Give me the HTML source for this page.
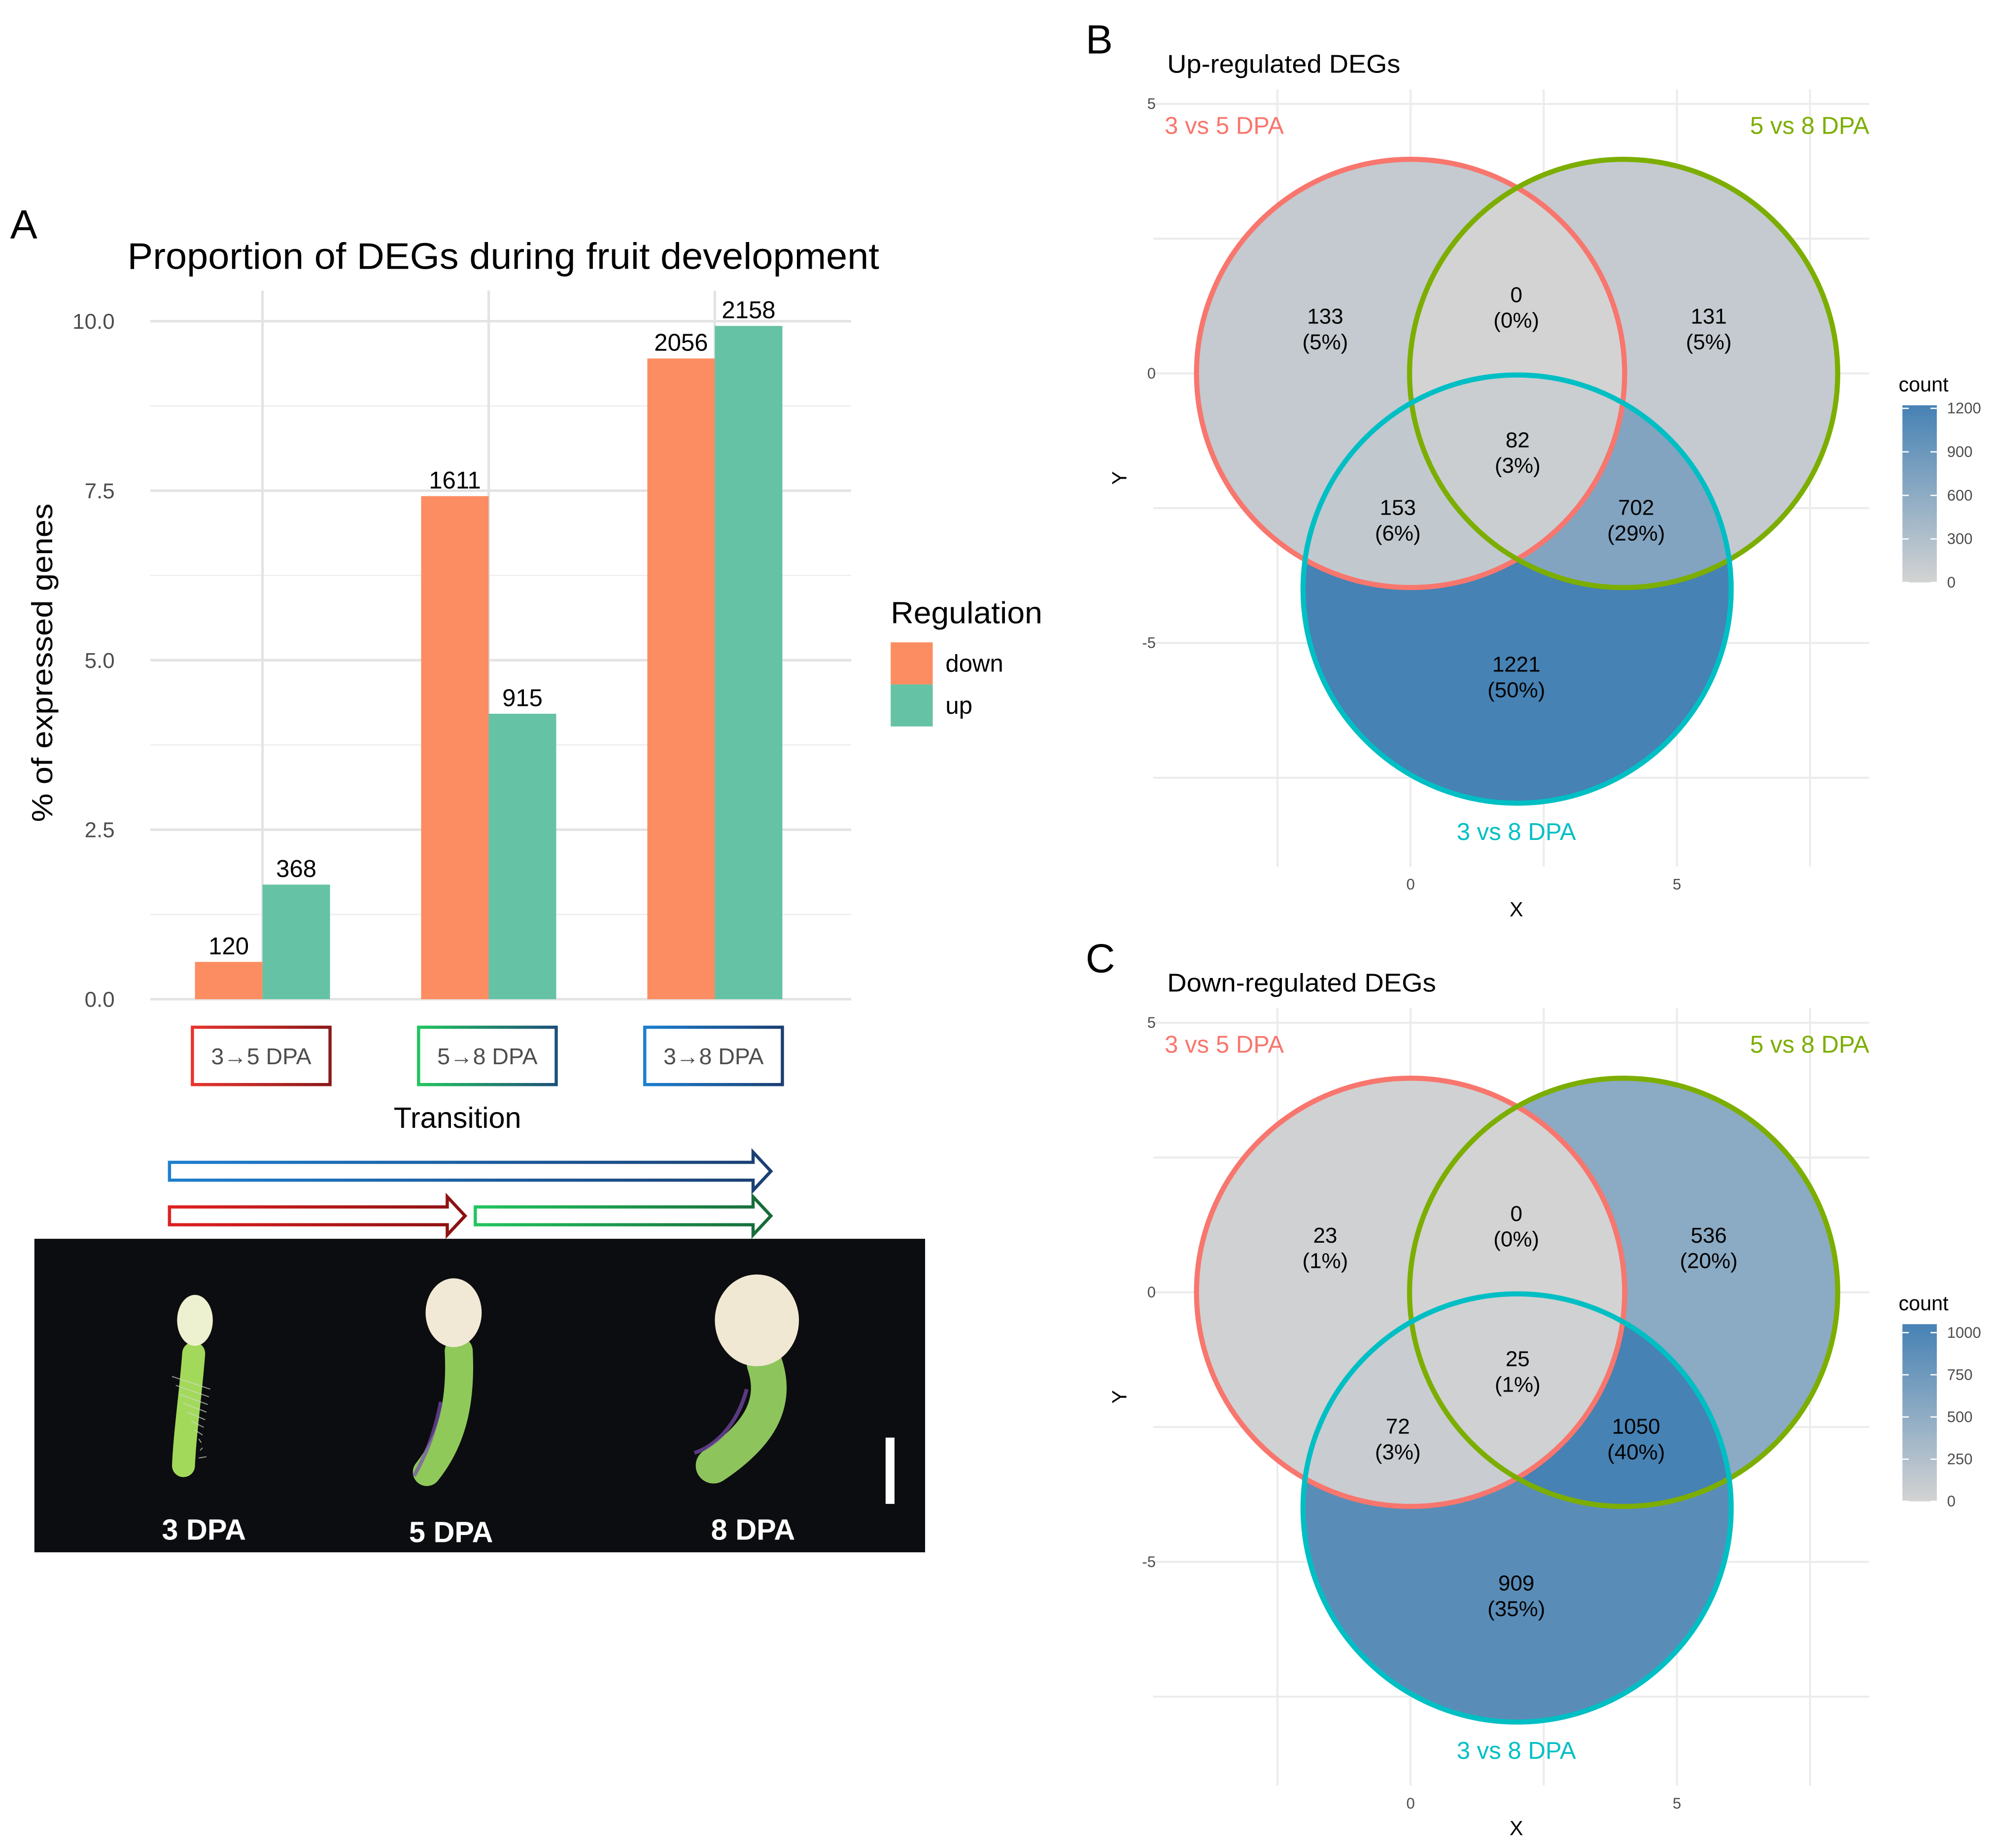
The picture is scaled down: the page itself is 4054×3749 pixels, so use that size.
<!DOCTYPE html>
<html><head><meta charset="utf-8">
<style>
html,body{margin:0;padding:0;background:#fff;}
svg{display:block;font-family:"Liberation Sans",sans-serif;}
</style></head>
<body>
<svg id="root" width="4054" height="3749" viewBox="0 0 1568 1450" xmlns="http://www.w3.org/2000/svg">
<defs>
<linearGradient id="g35" x1="0" x2="1"><stop offset="0" stop-color="#e8352f"/><stop offset="1" stop-color="#8b1a1a"/></linearGradient>
<linearGradient id="g58" x1="0" x2="1"><stop offset="0" stop-color="#22c55e"/><stop offset="1" stop-color="#1e4f7a"/></linearGradient>
<linearGradient id="g38" x1="0" x2="1"><stop offset="0" stop-color="#1d7fd0"/><stop offset="1" stop-color="#1b3f72"/></linearGradient>
<linearGradient id="cbUp" x1="0" y1="1" x2="0" y2="0"><stop offset="0" stop-color="#d3d3d3"/><stop offset="1" stop-color="#4682b4"/></linearGradient>
</defs>
<g id="panelA"></g>
<g id="panelB"></g>
<g id="panelC"></g>
</svg>
<script>
const categories = ["3\u21925 DPA","5\u21928 DPA","3\u21928 DPA"];
const downPct = [0.55, 7.42, 9.45];
const upPct = [1.69, 4.21, 9.93];
const downCount = ["120","1611","2056"];
const upCount = ["368","915","2158"];
const yTicks = [0, 2.5, 5.0, 7.5, 10.0];
const yTickLabels = ["0.0","2.5","5.0","7.5","10.0"];

const regionNames = ["A","B","C","AB","AC","BC","ABC"];
const upCounts = [133, 131, 1221, 0, 153, 702, 82];
const upPcts = ["5%","5%","50%","0%","6%","29%","3%"];
const downCounts = [23, 536, 909, 0, 72, 1050, 25];
const downPcts = ["1%","20%","35%","0%","3%","40%","1%"];
const upBarTicks = [0,300,600,900,1200];
const downBarTicks = [0,250,500,750,1000];

const NS="http://www.w3.org/2000/svg";
function mk(tag, attrs, parent, text){
  const e=document.createElementNS(NS,tag);
  for(const k in attrs) e.setAttribute(k,attrs[k]);
  if(text!==undefined) e.textContent=text;
  parent.appendChild(e); return e;
}
const root=document.getElementById('root');
const defs=root.querySelector('defs');

// ---------- Panel A ----------
const A=document.getElementById('panelA');
const yA=v=>784 - v*53.2;
const xCenter=i=>206 + i*177.5;
const barW=53;
let t=mk('text',{x:8,y:187,'font-size':32,fill:'#000'},A,'A');


t=mk('text',{x:100,y:211,'font-size':29,fill:'#000',textLength:590,lengthAdjust:'spacingAndGlyphs'},A,'Proportion of DEGs during fruit development');


for(let v=1.25; v<10.5; v+=2.5){
  const l=mk('line',{x1:118,x2:668,y1:yA(v),y2:yA(v),stroke:'#ededed','stroke-width':1},A);
  
  
}
yTicks.forEach((v,i)=>{
  const l=mk('line',{x1:118,x2:668,y1:yA(v),y2:yA(v),stroke:'#e3e3e3','stroke-width':2},A);
  
  
  const tx=mk('text',{x:90,y:yA(v)+6,'font-size':17,fill:'#4d4d4d','text-anchor':'end'},A,yTickLabels[i]);
  
  
});
categories.forEach((c,i)=>{
  const l=mk('line',{x1:xCenter(i),x2:xCenter(i),y1:228,y2:784,stroke:'#e3e3e3','stroke-width':2},A);
  
  
});
categories.forEach((c,i)=>{
  const cx=xCenter(i);
  let r=mk('rect',{x:cx-barW,y:yA(downPct[i]),width:barW,height:yA(0)-yA(downPct[i]),fill:'#fc8d62'},A);
  
  
  r=mk('rect',{x:cx,y:yA(upPct[i]),width:barW,height:yA(0)-yA(upPct[i]),fill:'#66c2a5'},A);
  
  
  let tx=mk('text',{x:cx-barW/2,y:yA(downPct[i])-6,'font-size':19,'text-anchor':'middle',fill:'#000'},A,downCount[i]);
  
  
  tx=mk('text',{x:cx+barW/2,y:yA(upPct[i])-6,'font-size':19,'text-anchor':'middle',fill:'#000'},A,upCount[i]);
  
  
  const grads=['url(#g35)','url(#g58)','url(#g38)'];
  const bx=mk('rect',{x:cx-55,y:806,width:108,height:45,fill:'#fff',stroke:grads[i],'stroke-width':2.5},A);
  
  
  tx=mk('text',{x:cx-1,y:835,'font-size':18,'text-anchor':'middle',fill:'#4d4d4d'},A,c);
  
  
});
t=mk('text',{x:359,y:885,'font-size':23,'text-anchor':'middle',fill:'#000'},A,'Transition');


t=mk('text',{x:0,y:0,'font-size':23,'text-anchor':'middle',fill:'#000',textLength:250,lengthAdjust:'spacingAndGlyphs',transform:'translate(41,520) rotate(-90)'},A,'% of expressed genes');


t=mk('text',{x:699,y:489,'font-size':24,fill:'#000',textLength:119,lengthAdjust:'spacingAndGlyphs'},A,'Regulation');


[['down','#fc8d62',504],['up','#66c2a5',537]].forEach(([lab,col,y])=>{
  const r=mk('rect',{x:699,y:y,width:33,height:33,fill:col},A);
  
  
  const tx=mk('text',{x:742,y:y+23,'font-size':19,fill:'#000'},A,lab);
  
  
});
function arrow(x1,x2,y,c1,c2,name){
  const id='ag'+name;
  const lg=mk('linearGradient',{id:id,x1:0,x2:1},defs);
  mk('stop',{offset:0,'stop-color':c1},lg); mk('stop',{offset:1,'stop-color':c2},lg);
  const h=7, head=14, hh=15;
  const p=`M${x1},${y-h} L${x2-head},${y-h} L${x2-head},${y-hh} L${x2},${y} L${x2-head},${y+hh} L${x2-head},${y+h} L${x1},${y+h} Z`;
  const e=mk('path',{d:p,fill:'#fff',stroke:`url(#${id})`,'stroke-width':2.5},A);
  
  
}
arrow(133,605,919,'#1f7fd0','#1b3f72','arrow-3-to-8');
arrow(133,365,954,'#e02020','#8b1010','arrow-3-to-5');
arrow(373,605,954,'#22c55e','#17693a','arrow-5-to-8');
const ph=mk('g',{},A);


mk('rect',{x:27,y:972,width:699,height:246,fill:'#0c0d10'},ph);
mk('path',{d:'M152,1062 C150,1090 145,1125 144,1150',stroke:'#a3d95a','stroke-width':18,fill:'none','stroke-linecap':'round'},ph);
for(let k=0;k<10;k++) mk('line',{x1:135+k*3,y1:1080+k*7,x2:165-k*1,y2:1090+k*6,stroke:'#cfd8c8','stroke-width':0.8,opacity:0.7},ph);
mk('ellipse',{cx:153,cy:1036,rx:14,ry:20,fill:'#eef1cf'},ph);
mk('path',{d:'M360,1060 C362,1100 355,1130 335,1155',stroke:'#8fc95a','stroke-width':22,fill:'none','stroke-linecap':'round'},ph);
mk('path',{d:'M346,1100 C340,1130 332,1145 325,1158',stroke:'#7a4fb0','stroke-width':3,fill:'none',opacity:0.7},ph);
mk('ellipse',{cx:356,cy:1030,rx:22,ry:27,fill:'#f1e9d6'},ph);
mk('path',{d:'M600,1070 C612,1105 590,1130 560,1150',stroke:'#8dc55c','stroke-width':28,fill:'none','stroke-linecap':'round'},ph);
mk('path',{d:'M586,1090 C578,1120 560,1135 545,1140',stroke:'#7a4fb0','stroke-width':3,fill:'none',opacity:0.7},ph);
mk('ellipse',{cx:594,cy:1036,rx:33,ry:36,fill:'#f1e8d4'},ph);
mk('rect',{x:695,y:1128,width:7,height:52,fill:'#fff'},ph);
[['3 DPA',160,1208],['5 DPA',354,1210],['8 DPA',591,1208]].forEach(([s,x,y])=>{
  const tx=mk('text',{x:x,y:y,'font-size':23,'font-weight':'bold','text-anchor':'middle',fill:'#fff'},ph,s);
  
  
});

function lerpColor(t){
  const a=[211,211,211], b=[70,130,180];
  return 'rgb('+a.map((v,i)=>Math.round(v+(b[i]-v)*t)).join(',')+')';
}
function venn(g, oy, letter, title, titleLen, counts, pcts, ticks){
  const max=Math.max(...counts);
  const xs=d=>1107+d*41.8;
  const ys=d=>293+oy-d*42.3;
  let tx=mk('text',{x:852,y:42+oy,'font-size':32,fill:'#000'},g,letter);
  
  
  tx=mk('text',{x:916,y:57+oy,'font-size':20,fill:'#000',textLength:titleLen,lengthAdjust:'spacingAndGlyphs'},g,title);
  
  
  [-2.5,0,2.5,5,7.5].forEach(d=>{
    const l=mk('line',{x1:xs(d),x2:xs(d),y1:70+oy,y2:680+oy,stroke:'#ebebeb','stroke-width':1.5},g);
    
    
  });
  [5,2.5,0,-2.5,-5,-7.5].forEach(d=>{
    const l=mk('line',{x1:905,x2:1467,y1:ys(d),y2:ys(d),stroke:'#ebebeb','stroke-width':1.5},g);
    
    
  });
  [0,5].forEach(d=>{
    const e=mk('text',{x:xs(d),y:698+oy,'font-size':12,'text-anchor':'middle',fill:'#4d4d4d'},g,String(d));
    
    
  });
  [5,0,-5].forEach(d=>{
    const e=mk('text',{x:907,y:ys(d)+4,'font-size':12,'text-anchor':'end',fill:'#4d4d4d'},g,String(d));
    
    
  });
  tx=mk('text',{x:1190,y:719+oy,'font-size':16,'text-anchor':'middle',fill:'#000'},g,'X');
  
  
  tx=mk('text',{x:0,y:0,'font-size':16,'text-anchor':'middle',fill:'#000',transform:`translate(884,${375+oy}) rotate(-90)`},g,'Y');
  
  
  const R=168;
  const C={A:[xs(0),ys(0)],B:[xs(4),ys(0)],C:[xs(2),ys(-4)]};
  const p=letter;
  ['A','B','C'].forEach(k=>{
    const cp=mk('clipPath',{id:`clip${p}${k}`},defs);
    mk('circle',{cx:C[k][0],cy:C[k][1],r:R},cp);
    const m=mk('mask',{id:`mask${p}${k}`,maskUnits:'userSpaceOnUse',x:0,y:0,width:1568,height:1450},defs);
    mk('rect',{x:0,y:0,width:1568,height:1450,fill:'#fff'},m);
    mk('circle',{cx:C[k][0],cy:C[k][1],r:R,fill:'#000'},m);
  });
  regionNames.forEach((rn,i)=>{
    const inS=rn.split('');
    const outS=['A','B','C'].filter(k=>!inS.includes(k));
    let parent=g;
    inS.forEach(k=>{ parent=mk('g',{'clip-path':`url(#clip${p}${k})`},parent); });
    outS.forEach(k=>{ parent=mk('g',{mask:`url(#mask${p}${k})`},parent); });
    const r=mk('rect',{x:900,y:oy+80,width:600,height:600,fill:lerpColor(counts[i]/max)},parent);
    
    
  });
  const cols={A:'#f8766d',B:'#7cae00',C:'#00bfc4'};
  ['A','B','C'].forEach(k=>{
    const c=mk('circle',{cx:C[k][0],cy:C[k][1],r:R,fill:'none',stroke:cols[k],'stroke-width':4},g);
    
    
  });
  const lp={A:[1040,258],B:[1341,258],C:[1190,531],AB:[1190,241],AC:[1097,408],BC:[1284,408],ABC:[1191,355]};
  regionNames.forEach((rn,i)=>{
    const [x,y]=lp[rn];
    const e=mk('text',{x:x,y:y-4+oy,'font-size':17,'text-anchor':'middle',fill:'#000'},g,String(counts[i]));
    
    
    const e2=mk('text',{x:x,y:y+16+oy,'font-size':17,'text-anchor':'middle',fill:'#000'},g,'('+pcts[i]+')');
    
    
  });
  tx=mk('text',{x:914,y:105+oy,'font-size':19,fill:cols.A},g,'3 vs 5 DPA');
  
  
  tx=mk('text',{x:1467,y:105+oy,'font-size':19,fill:cols.B,'text-anchor':'end'},g,'5 vs 8 DPA');
  
  
  tx=mk('text',{x:1190,y:659+oy,'font-size':19,fill:cols.C,'text-anchor':'middle'},g,'3 vs 8 DPA');
  
  
  tx=mk('text',{x:1490,y:307+oy,'font-size':16,fill:'#000'},g,'count');
  
  
  const top=318+oy, bot=457+oy;
  const cb=mk('rect',{x:1493,y:top,width:27,height:bot-top,fill:'url(#cbUp)'},g);
  
  
  ticks.forEach(v=>{
    const y=bot-(bot-top)*v/max;
    mk('line',{x1:1493,x2:1498,y1:y,y2:y,stroke:'#fff','stroke-width':1},g);
    mk('line',{x1:1515,x2:1520,y1:y,y2:y,stroke:'#fff','stroke-width':1},g);
    const e=mk('text',{x:1528,y:y+4,'font-size':12,fill:'#4d4d4d'},g,String(v));
    
    
  });
}
venn(document.getElementById('panelB'),0,'B','Up-regulated DEGs',183,upCounts,upPcts,upBarTicks);
venn(document.getElementById('panelC'),721,'C','Down-regulated DEGs',211,downCounts,downPcts,downBarTicks);
</script>
</body></html>
